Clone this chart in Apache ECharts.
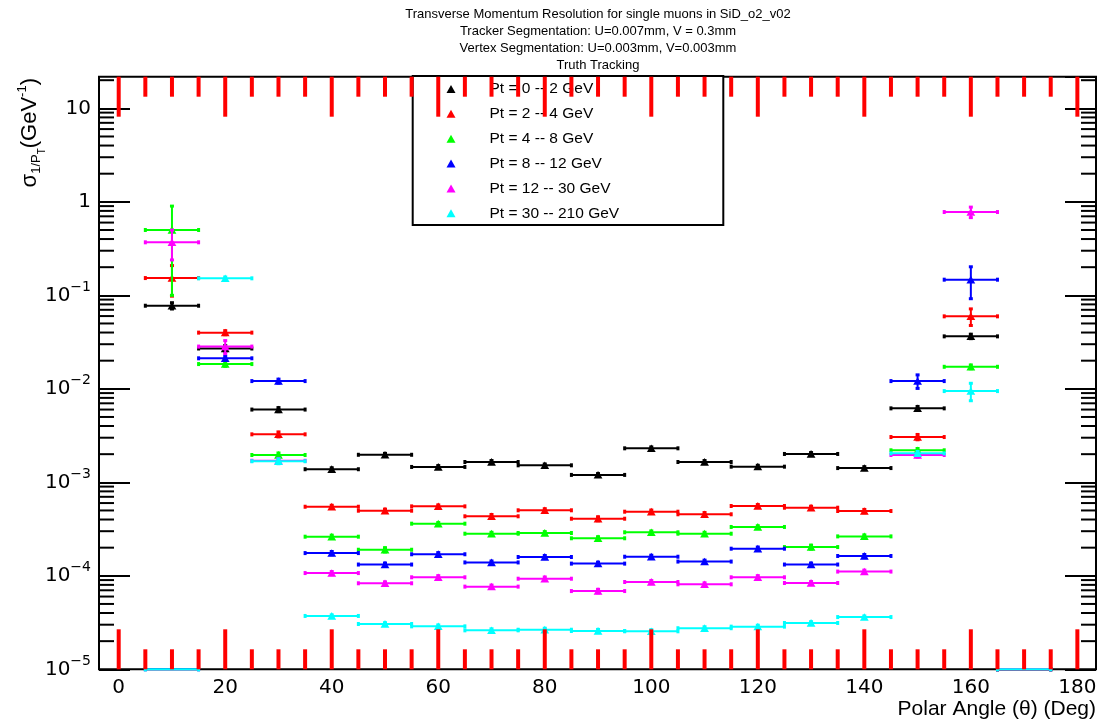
<!DOCTYPE html>
<html><head><meta charset="utf-8">
<script src="https://cdn.jsdelivr.net/npm/echarts@6/dist/echarts.min.js"></script>
<style>html,body{margin:0;padding:0;background:#fff}#c{width:1101px;height:723px}</style>
</head><body><div id="c"></div><script>
const titleLines = [
  'Transverse Momentum Resolution for single muons in SiD_o2_v02',
  'Tracker Segmentation: U=0.007mm, V = 0.3mm',
  'Vertex Segmentation: U=0.003mm, V=0.003mm',
  'Truth Tracking'
];
const xAxisTitle = 'Polar Angle (\u03b8) (Deg)';
const thetaDeg = [10, 20, 30, 40, 50, 60, 70, 80, 90, 100, 110, 120, 130, 140, 150, 160, 170];
const binHalfWidth = 5;
const seriesNames = ['Pt = 0 -- 2 GeV', 'Pt = 2 -- 4 GeV', 'Pt = 4 -- 8 GeV', 'Pt = 8 -- 12 GeV', 'Pt = 12 -- 30 GeV', 'Pt = 30 -- 210 GeV'];
const seriesColors = ['#000000', '#ff0000', '#00ff00', '#0000ff', '#ff00ff', '#00ffff'];

const pt0to2    = [0.0774, 0.027, 0.0060, 0.00138, 0.00197, 0.00146, 0.00165, 0.00152, 0.00120, 0.00231, 0.00165, 0.00147, 0.00201, 0.00142, 0.00618, 0.0364, 0];
const pt0to2Err = [0.006, 0.002, 0.0003, 0.00005, 0.00007, 0.00005, 0.00006, 0.00005, 0.00004, 0.00008, 0.00006, 0.00005, 0.00007, 0.00005, 0.0003, 0.002, 0];
const pt2to4    = [0.153, 0.0399, 0.00326, 0.000548, 0.000497, 0.000553, 0.000433, 0.000502, 0.000408, 0.000485, 0.000455, 0.000558, 0.000535, 0.000493, 0.00305, 0.0596, 0];
const pt2to4Err = [0.055, 0.002, 0.0002, 0.00002, 0.00002, 0.00002, 0.00002, 0.00002, 0.00002, 0.00002, 0.00002, 0.00002, 0.00002, 0.00002, 0.0002, 0.012, 0];
const pt4to8    = [0.5, 0.0184, 0.00196, 0.000262, 0.000190, 0.000361, 0.000282, 0.000287, 0.000252, 0.000292, 0.000282, 0.000333, 0.000203, 0.000264, 0.00220, 0.0172, 0];
const pt4to8Err = [0.4, 0.001, 0.0001, 0.00001, 0.00001, 0.00001, 0.00001, 0.00001, 0.00001, 0.00001, 0.00001, 0.00001, 0.00001, 0.00001, 0.0001, 0.0008, 0];
const pt8to12    = [0, 0.0212, 0.0121, 0.000175, 0.000132, 0.000170, 0.000139, 0.000159, 0.000135, 0.000160, 0.000142, 0.000195, 0.000132, 0.000163, 0.0121, 0.147, 0];
const pt8to12Err = [0, 0.001, 0.0006, 0.000007, 0.000005, 0.000007, 0.000005, 0.000006, 0.000005, 0.000006, 0.000005, 0.000008, 0.000005, 0.000006, 0.002, 0.055, 0];
const pt12to30    = [0.369, 0.0283, 0.0017, 0.000107, 0.0000832, 0.0000964, 0.0000766, 0.0000931, 0.0000687, 0.0000859, 0.0000811, 0.0000964, 0.0000838, 0.000111, 0.00196, 0.778, 0];
const pt12to30Err = [0.13, 0.0045, 0.0001, 0.000004, 0.000003, 0.000004, 0.000003, 0.000004, 0.000003, 0.000003, 0.000003, 0.000004, 0.000003, 0.000004, 0.0001, 0.1, 0];
const pt30to210    = [0, 0.152, 0.00168, 0.0000372, 0.0000305, 0.0000288, 0.0000261, 0.0000265, 0.0000257, 0.0000255, 0.0000275, 0.0000286, 0.0000313, 0.0000362, 0.00204, 0.00946, 0];
const pt30to210Err = [0, 0.005, 0.0001, 0.000001, 0.000001, 0.000001, 0.000001, 0.000001, 0.000001, 0.000001, 0.000001, 0.000001, 0.000001, 0.000001, 0.0001, 0.002, 0];

const seriesValues = [pt0to2, pt2to4, pt4to8, pt8to12, pt12to30, pt30to210];
const seriesErrors = [pt0to2Err, pt2to4Err, pt4to8Err, pt8to12Err, pt12to30Err, pt30to210Err];

const FONT = 'Liberation Sans, Arial, sans-serif';
const TICKFONT = 'DejaVu Sans, sans-serif';
const frameL = 99, frameR = 1096, frameT = 76.7, frameB = 669.3;
const W = 1101, H = 723;
const xMin = -3.70, xMax = 183.5;
const yMin = 1e-5, yMax = 21.8;
const degPx = (frameR - frameL) / (xMax - xMin);
const tickGridL = frameL + (0 - xMin) * degPx;
const tickGridR = frameL + (180 - xMin) * degPx;

function errorBarRenderer(color) {
  return function (params, api) {
    const cs = params.coordSys;
    const x = api.value(0), y = api.value(1), err = api.value(2);
    const bottom = cs.y + cs.height;
    const xl = api.coord([x - binHalfWidth, 1])[0];
    const xr = api.coord([x + binHalfWidth, 1])[0];
    const xc = api.coord([x, 1])[0];
    const py = y > 0 ? api.coord([x, y])[1] : bottom;
    const ch = [
      {type: 'line', shape: {x1: xl, y1: py, x2: xr, y2: py}, style: {stroke: color, lineWidth: 2}},
      {type: 'rect', shape: {x: xl - 1.5, y: py - 2, width: 3, height: 4}, style: {fill: color}},
      {type: 'rect', shape: {x: xr - 1.5, y: py - 2, width: 3, height: 4}, style: {fill: color}}
    ];
    if (y > 0) {
      if (err > 0) {
        const yt = api.coord([x, y + err])[1];
        const yb = (y - err) > 0 ? api.coord([x, y - err])[1] : bottom;
        ch.push({type: 'line', shape: {x1: xc, y1: yt, x2: xc, y2: yb}, style: {stroke: color, lineWidth: 2}});
        ch.push({type: 'rect', shape: {x: xc - 2, y: yt - 1.5, width: 4, height: 3}, style: {fill: color}});
        ch.push({type: 'rect', shape: {x: xc - 2, y: yb - 1.5, width: 4, height: 3}, style: {fill: color}});
      }
      ch.push({type: 'polygon', shape: {points: [[xc - 4.4, py + 3.7], [xc + 4.4, py + 3.7], [xc, py - 3.9]]}, style: {fill: color}});
    }
    return {type: 'group', children: ch};
  };
}

const yMinorTickValues = [];
for (let e = -5; e <= 1; e++) for (let m = 2; m <= 9; m++) {
  const v = m * Math.pow(10, e);
  if (v < yMax) yMinorTickValues.push([0, v]);
}
const xTickDegrees = [];
for (let d = 0; d <= 180; d += 5) xTickDegrees.push(d);

const dataSeries = seriesNames.map((name, i) => ({
  name: name, type: 'custom', xAxisIndex: 0, yAxisIndex: 0,
  renderItem: errorBarRenderer(seriesColors[i]),
  itemStyle: {color: seriesColors[i]},
  encode: {x: 0, y: 1},
  data: thetaDeg.map((t, k) => [t, seriesValues[i][k], seriesErrors[i][k]]),
  z: 2 + i * 0.01, silent: true
}));

const yMinorTickSeries = {
  name: 'yMinorTicks', type: 'custom', xAxisIndex: 0, yAxisIndex: 0, silent: true, z: 5,
  renderItem: function (params, api) {
    const cs = params.coordSys;
    const py = api.coord([0, api.value(1)])[1];
    return {type: 'group', children: [
      {type: 'rect', shape: {x: cs.x, y: py - 1, width: 15, height: 2}, style: {fill: '#000'}},
      {type: 'rect', shape: {x: cs.x + cs.width - 15, y: py - 1, width: 15, height: 2}, style: {fill: '#000'}}
    ]};
  },
  encode: {x: 0, y: 1},
  data: yMinorTickValues
};

// DEBUG: exaggerated ticks to check visibility
const xTickGraphics = [];
xTickDegrees.forEach(function (d) {
  const px = frameL + (d - xMin) * degPx;
  const len = (d % 20 === 0) ? 40 : 20;
  xTickGraphics.push({type: 'rect', z: 20, shape: {x: px - 2, y: frameB - len, width: 4, height: len}, style: {fill: '#ff0000'}});
  xTickGraphics.push({type: 'rect', z: 20, shape: {x: px - 2, y: frameT, width: 4, height: len}, style: {fill: '#ff0000'}});
});

function yLabel(v) {
  const e = Math.round(Math.log10(v));
  if (e === 1) return '{b|10}';
  if (e === 0) return '{b|1}';
  return '{b|10}{e|\u2212' + (-e) + '}';
}

const option = {
  animation: false,
  backgroundColor: '#fff',
  grid: [
    {left: frameL, right: W - frameR, top: frameT, bottom: H - frameB, show: true, borderColor: '#000', borderWidth: 2, backgroundColor: 'transparent'},
    {left: tickGridL, right: W - tickGridR, top: frameT, bottom: H - frameB}
  ],
  xAxis: [
    {gridIndex: 0, type: 'value', min: xMin, max: xMax, axisLine: {show: false, onZero: false}, axisTick: {show: false}, axisLabel: {show: false}, splitLine: {show: false}},
    {gridIndex: 1, type: 'value', position: 'bottom', min: 0, max: 180, interval: 20, z: 6,
      axisLine: {show: false, onZero: false}, splitLine: {show: false},
      axisTick: {show: false},
      axisLabel: {color: '#000', fontSize: 20, fontFamily: TICKFONT, margin: 8}}
  ],
  yAxis: [
    {gridIndex: 0, type: 'log', logBase: 10, min: yMin, max: yMax, position: 'left', z: 6,
      axisLine: {show: false, onZero: false}, splitLine: {show: false},
      axisTick: {inside: true, length: 31, lineStyle: {color: '#000', width: 2}},
      axisLabel: {formatter: yLabel, showMaxLabel: false, margin: 8, color: '#000',
        rich: {b: {fontSize: 20, fontFamily: TICKFONT, color: '#000'},
               e: {fontSize: 14, fontFamily: TICKFONT, color: '#000', verticalAlign: 'top', lineHeight: 30}}}},
    {gridIndex: 0, type: 'log', logBase: 10, min: yMin, max: yMax, position: 'right', z: 6,
      axisLine: {show: false, onZero: false}, splitLine: {show: false},
      axisTick: {inside: true, length: 31, lineStyle: {color: '#000', width: 2}},
      axisLabel: {show: false}},
    {gridIndex: 1, type: 'value', min: 0, max: 1, show: false, axisLine: {onZero: false}}
  ],
  legend: {
    data: seriesNames, orient: 'vertical', left: 446.5, top: 79, padding: 0,
    icon: 'triangle', itemWidth: 9, itemHeight: 8, itemGap: 4.86, selectedMode: false,
    textStyle: {fontSize: 15.5, fontFamily: FONT, color: '#000', lineHeight: 20, padding: [0, 0, 0, 29]},
    z: 10
  },
  graphic: [
    {type: 'rect', z: 9, shape: {x: 412.7, y: 76, width: 310.6, height: 149}, style: {fill: '#fff', stroke: '#000', lineWidth: 2}},
    {type: 'text', x: 598, y: 5.5, z: 10, style: {text: titleLines.join('\n'), fill: '#000', font: '13px ' + FONT, textAlign: 'center', textVerticalAlign: 'top', lineHeight: 17}},
    {type: 'text', x: frameR, y: 709, z: 10, style: {text: xAxisTitle, fill: '#000', font: '21px ' + FONT, textAlign: 'right', textVerticalAlign: 'middle'}},
    {type: 'text', x: 30, y: 78, rotation: Math.PI / 2, z: 10, style: {
      text: '{m|\u03c3}{sub|1/P}{ss|T}{m|(GeV}{sup|-1}{m|)}',
      textAlign: 'right', textVerticalAlign: 'middle', fill: '#000',
      rich: {
        m: {fontSize: 22, fontFamily: FONT, lineHeight: 34, verticalAlign: 'middle'},
        sub: {fontSize: 13, fontFamily: FONT, verticalAlign: 'bottom', padding: [0, 0, 4, 0]},
        ss: {fontSize: 10, fontFamily: FONT, verticalAlign: 'bottom'},
        sup: {fontSize: 13, fontFamily: FONT, verticalAlign: 'top', padding: [3, 0, 0, 0]}
      }}}
  ].concat(xTickGraphics),
  series: dataSeries.concat([yMinorTickSeries])
};

const chart = echarts.init(document.getElementById('c'), null, {renderer: 'canvas'});
chart.setOption(option);
</script></body></html>
